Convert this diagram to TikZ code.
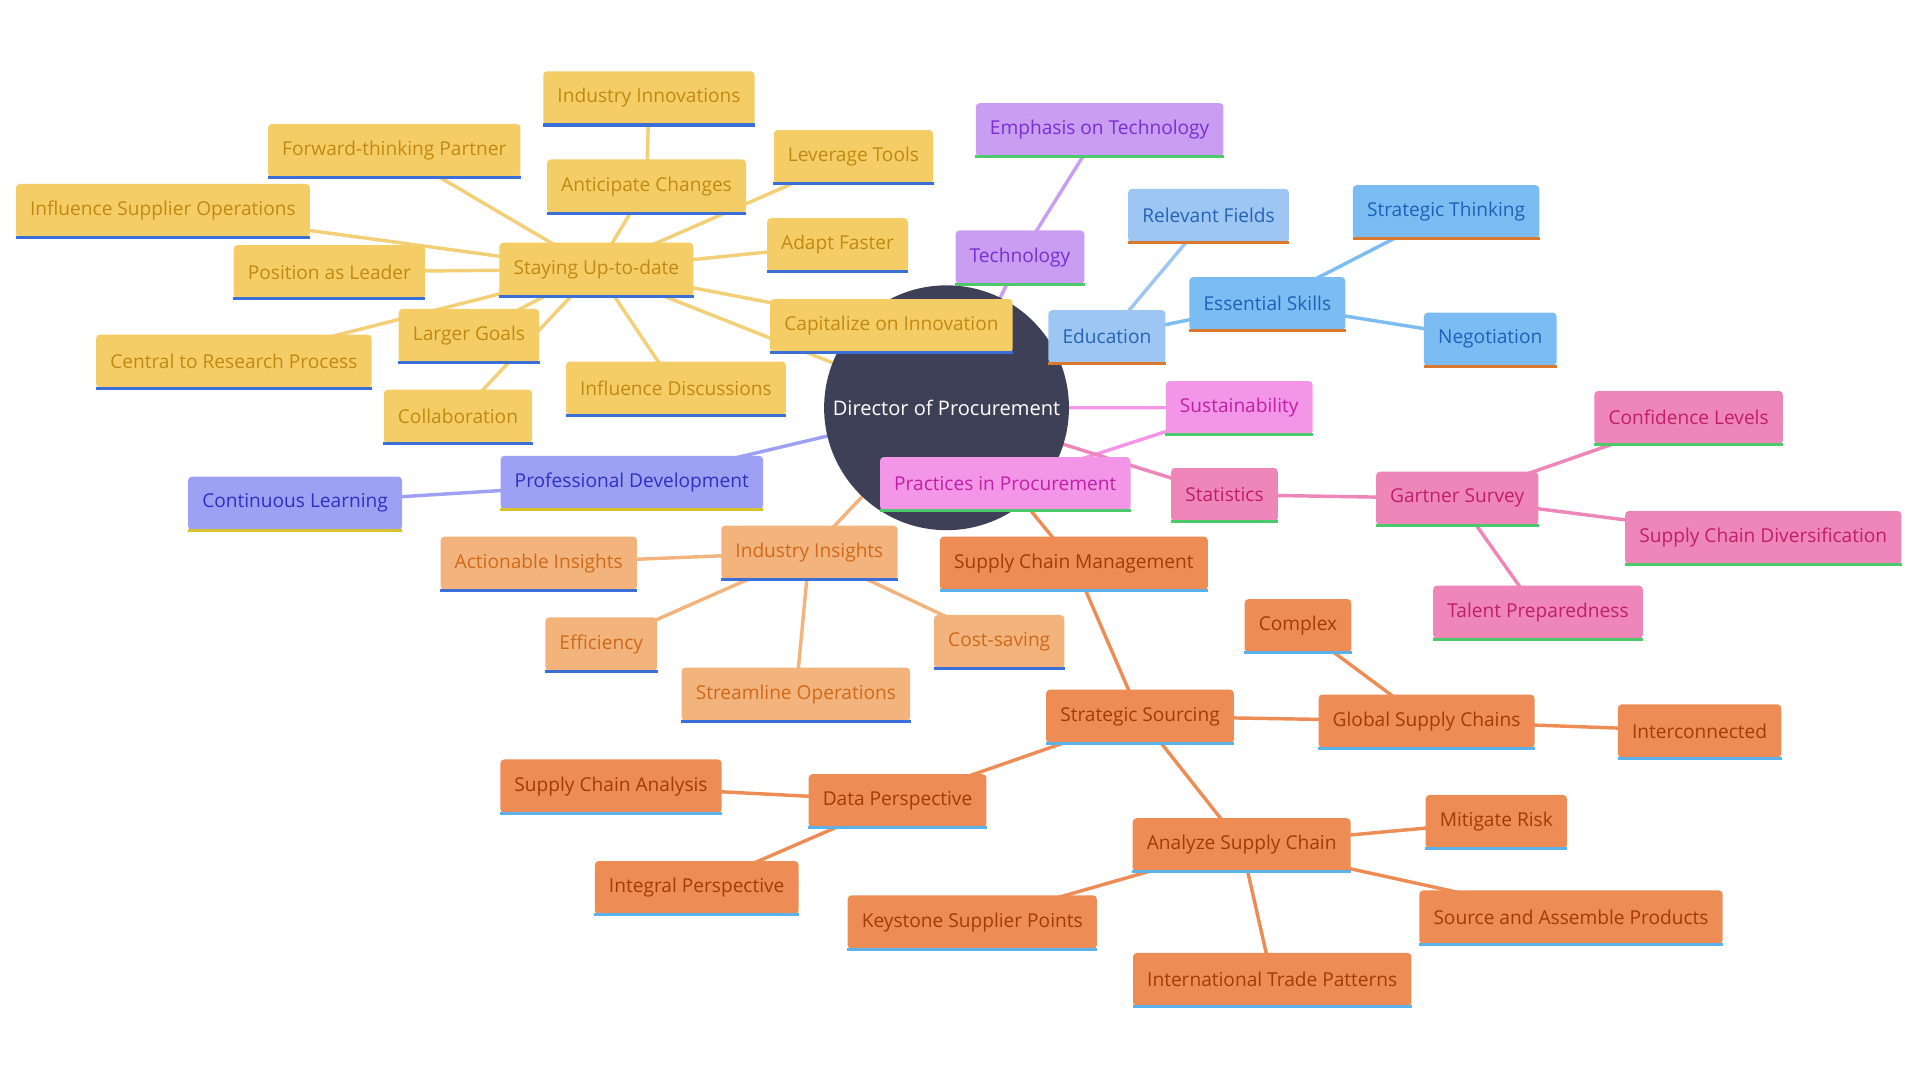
\documentclass[tikz,border=0pt]{standalone}
\usepackage{fontspec}
\setmainfont{Open Sans}
\usetikzlibrary{backgrounds}
\definecolor{hub}{HTML}{3E4057}
\definecolor{yelF}{HTML}{F5CD66}\definecolor{yelT}{HTML}{C08A12}\definecolor{yelL}{HTML}{F3D077}
\definecolor{uBlue}{HTML}{3A6FD8}\definecolor{uSky}{HTML}{5AB2EA}\definecolor{uGreen}{HTML}{4CC96A}
\definecolor{uOrange}{HTML}{D9782E}\definecolor{uYel}{HTML}{D8C22A}
\definecolor{purF}{HTML}{C99DF2}\definecolor{purT}{HTML}{7A2ED0}
\definecolor{eduF}{HTML}{9EC6F3}\definecolor{eduT}{HTML}{2563B3}
\definecolor{skF}{HTML}{7BBDF2}\definecolor{skT}{HTML}{1A62B8}
\definecolor{susF}{HTML}{F396E8}\definecolor{susT}{HTML}{C01FA6}
\definecolor{stF}{HTML}{EE86BA}\definecolor{stT}{HTML}{C01E6A}
\definecolor{pdF}{HTML}{9EA1F3}\definecolor{pdT}{HTML}{2F30C2}
\definecolor{iiF}{HTML}{F2B47C}\definecolor{iiT}{HTML}{D0691A}
\definecolor{scF}{HTML}{EE8C55}\definecolor{scT}{HTML}{A23A0A}
\tikzset{
  box/.style 2 args={rectangle, rounded corners=2pt, fill=#1, minimum height=0.98cm,
    inner xsep=0.26cm, font=\fontsize{10}{12}\selectfont,
    append after command={(\tikzlastnode.south west) edge[draw=#2, line width=1.6pt, -] (\tikzlastnode.south east)}},
  yel/.style={box={yelF}{uBlue}, text=yelT},
  tech/.style={box={purF}{uGreen}, text=purT},
  edu/.style={box={eduF}{uOrange}, text=eduT},
  skill/.style={box={skF}{uOrange}, text=skT},
  sus/.style={box={susF}{uGreen}, text=susT},
  stat/.style={box={stF}{uGreen}, text=stT},
  prof/.style={box={pdF}{uYel}, text=pdT},
  ins/.style={box={iiF}{uBlue}, text=iiT},
  scm/.style={box={scF}{uSky}, text=scT},
  link/.style={line width=1.8pt},
}
\begin{document}
\begin{tikzpicture}[x=0.0225cm, y=-0.0225cm]
\useasboundingbox (0,0) rectangle (1568,882);

% hub
\node[circle, fill=hub, minimum size=4.5cm, text=white, font=\fontsize{10.5}{12}\selectfont] (dir) at (773,333) {Director of Procurement};

% staying up-to-date
\node[yel] (stay) at (487,220) {Staying Up-to-date};
\node[yel] (innov) at (530,80) {Industry Innovations};
\node[yel] (antic) at (528,152) {Anticipate Changes};
\node[yel] (fwd) at (322,123) {Forward-thinking Partner};
\node[yel] (tools) at (697,128) {Leverage Tools};
\node[yel] (supop) at (133,172) {Influence Supplier Operations};
\node[yel] (leader) at (269,222) {Position as Leader};
\node[yel] (adapt) at (684,200) {Adapt Faster};
\node[yel] (capit) at (728,266) {Capitalize on Innovation};
\node[yel] (goals) at (383,274) {Larger Goals};
\node[yel] (resrch) at (191,295) {Central to Research Process};
\node[yel] (discus) at (552,317) {Influence Discussions};
\node[yel] (collab) at (374,340) {Collaboration};

% technology, education
\node[tech] (tech) at (833,210) {Technology};
\node[tech] (emph) at (898,106) {Emphasis on Technology};
\node[edu] (edu) at (904,275) {Education};
\node[edu] (fields) at (987,176) {Relevant Fields};
\node[skill] (skills) at (1035,248) {Essential Skills};
\node[skill] (think) at (1181,173) {Strategic Thinking};
\node[skill] (nego) at (1217,277) {Negotiation};

% sustainability, statistics
\node[sus] (sus) at (1012,333) {Sustainability};
\node[sus] (pract) at (821,395) {Practices in Procurement};
\node[stat] (stats) at (1000,404) {Statistics};
\node[stat] (gart) at (1190,407) {Gartner Survey};
\node[stat] (conf) at (1379,341) {Confidence Levels};
\node[stat] (divers) at (1440,439) {Supply Chain Diversification};
\node[stat] (talent) at (1256,500) {Talent Preparedness};

% development, insights
\node[prof] (prof) at (516,394) {Professional Development};
\node[prof] (learn) at (241,411) {Continuous Learning};
\node[ins] (ins) at (661,451) {Industry Insights};
\node[ins] (action) at (440,460) {Actionable Insights};
\node[ins] (effic) at (491,526) {Efficiency};
\node[ins] (stream) at (650,567) {Streamline Operations};
\node[ins] (cost) at (816,524) {Cost-saving};

% supply chain management
\node[scm] (scm) at (877,460) {Supply Chain Management};
\node[scm] (sourc) at (931,585) {Strategic Sourcing};
\node[scm] (global) at (1165,589) {Global Supply Chains};
\node[scm] (cmplx) at (1060,511) {Complex};
\node[scm] (inter) at (1388,597) {Interconnected};
\node[scm] (data) at (733,654) {Data Perspective};
\node[scm] (anal) at (499,642) {Supply Chain Analysis};
\node[scm] (integ) at (569,725) {Integral Perspective};
\node[scm] (analy) at (1014,690) {Analyze Supply Chain};
\node[scm] (risk) at (1222,671) {Mitigate Risk};
\node[scm] (assem) at (1283,749) {Source and Assemble Products};
\node[scm] (trade) at (1039,800) {International Trade Patterns};
\node[scm] (keyst) at (794,753) {Keystone Supplier Points};

\begin{scope}[on background layer]
  \draw[link, yelL] (dir.center) -- (stay.center);
  \foreach \n in {antic, fwd, tools, supop, leader, adapt, capit, goals, resrch, discus, collab}
    \draw[link, yelL] (stay.center) -- (\n.center);
  \draw[link, yelL] (antic.center) -- (innov.center);
  \draw[link, purF] (dir.center) -- (tech.center) -- (emph.center);
  \draw[link, eduF] (dir.center) -- (edu.center) -- (fields.center);
  \draw[link, skF] (edu.center) -- (skills.center) -- (think.center);
  \draw[link, skF] (skills.center) -- (nego.center);
  \draw[link, susF] (dir.center) -- (sus.center) -- (pract.center);
  \draw[link, stF] (dir.center) -- (stats.center) -- (gart.center);
  \foreach \n in {conf, divers, talent}
    \draw[link, stF] (gart.center) -- (\n.center);
  \draw[link, pdF] (dir.center) -- (prof.center) -- (learn.center);
  \draw[link, iiF] (dir.center) -- (ins.center);
  \foreach \n in {action, effic, stream, cost}
    \draw[link, iiF] (ins.center) -- (\n.center);
  \draw[link, scF] (dir.center) -- (scm.center) -- (sourc.center);
  \foreach \n in {global, data, analy}
    \draw[link, scF] (sourc.center) -- (\n.center);
  \draw[link, scF] (global.center) -- (cmplx.center);
  \draw[link, scF] (global.center) -- (inter.center);
  \draw[link, scF] (data.center) -- (anal.center);
  \draw[link, scF] (data.center) -- (integ.center);
  \foreach \n in {risk, assem, trade, keyst}
    \draw[link, scF] (analy.center) -- (\n.center);
\end{scope}
\end{tikzpicture}
\end{document}
